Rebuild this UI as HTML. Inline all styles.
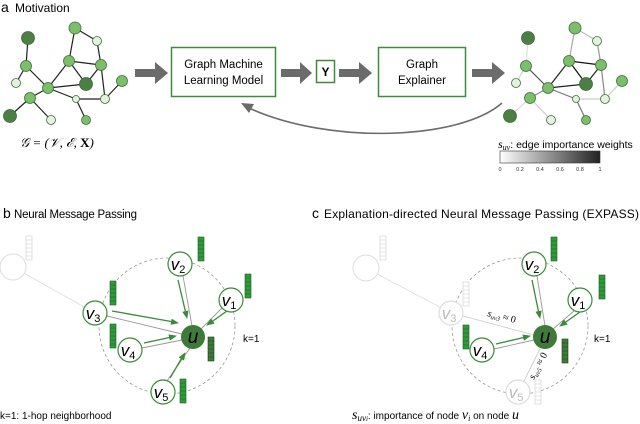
<!DOCTYPE html>
<html><head><meta charset="utf-8"><style>
html,body{margin:0;padding:0;background:#fff;}
svg{display:block;}
text{font-family:"Liberation Sans",sans-serif;}
.m{font-family:"Liberation Serif",serif;font-style:italic;}
</style></head><body>
<svg width="640" height="424" viewBox="0 0 640 424" xmlns="http://www.w3.org/2000/svg">
<defs>
<linearGradient id="cb" x1="0" x2="1"><stop offset="0" stop-color="#fff"/><stop offset="1" stop-color="#222"/></linearGradient>
<g id="vec"><rect x="0" y="0" width="6" height="24" fill="#2e9a3a" stroke="#1d5e22" stroke-width="0.6"/><path d="M0,4H6M0,8H6M0,12H6M0,16H6M0,20H6" stroke="#1d5e22" stroke-width="0.5"/></g>
<g id="vecd"><rect x="0" y="0" width="6" height="24" fill="#3f7a3a" stroke="#1d3e1a" stroke-width="0.6"/><path d="M0,4H6M0,8H6M0,12H6M0,16H6M0,20H6" stroke="#1d3e1a" stroke-width="0.5"/></g>
<g id="vecf"><rect x="0" y="0" width="6" height="24" fill="#fff" stroke="#ccc" stroke-width="0.6"/><path d="M0,4H6M0,8H6M0,12H6M0,16H6M0,20H6" stroke="#ccc" stroke-width="0.5"/></g>
<path id="ah" d="M1,0L-7,-3.2L-7,3.2z" fill="#3a8a3a"/>
</defs>

<text x="1" y="12" font-size="14">a</text><text x="15" y="12" font-size="12">Motivation</text>

<!-- left graph -->
<g stroke="#222" stroke-width="1.2">
<path d="M28,38L26,66M26,66L16,83M26,66L48,88M75,28L97,41M75,28L69,61M97,41L101,65M69,61L101,65M69,61L48,88M69,61L86,84M101,65L86,84M101,65L105,99M48,88L86,84M48,88L76,99M76,99L105,99M76,99L86,120M105,99L122,81M48,88L30,98M30,98L10,116M30,98L51,120"/>
</g>
<g stroke="#3c6e3c" stroke-width="0.8">
<circle cx="28" cy="38" r="6.5" fill="#4c7f44"/><circle cx="75" cy="28" r="6" fill="#7bbf6a"/><circle cx="97" cy="41" r="4.5" fill="#e6f0e0"/>
<circle cx="26" cy="66" r="5.5" fill="#7bbf6a"/><circle cx="69" cy="61" r="5.5" fill="#7bbf6a"/><circle cx="101" cy="65" r="5.5" fill="#7bbf6a"/>
<circle cx="86" cy="84" r="6.5" fill="#4c7f44"/><circle cx="16" cy="83" r="4.5" fill="#e6f0e0"/><circle cx="48" cy="88" r="5.5" fill="#7bbf6a"/>
<circle cx="122" cy="81" r="5.5" fill="#7bbf6a"/><circle cx="30" cy="98" r="5.5" fill="#7bbf6a"/><circle cx="76" cy="99" r="3.5" fill="#e6f0e0"/>
<circle cx="105" cy="99" r="4.5" fill="#e6f0e0"/><circle cx="10" cy="116" r="6.5" fill="#4c7f44"/><circle cx="51" cy="120" r="4.5" fill="#e6f0e0"/><circle cx="86" cy="120" r="4.5" fill="#7bbf6a"/>
</g>
<text x="20" y="147" font-size="13" class="m">𝒢 = (𝒱, ℰ, <tspan font-weight="bold" font-style="normal">X</tspan>)</text>

<!-- right graph -->
<g transform="translate(500,0)">
<g stroke-width="1.2">
<path d="M28,38L26,66" stroke="#ddd"/><path d="M26,66L16,83" stroke="#ccc"/><path d="M26,66L48,88" stroke="#555"/>
<path d="M75,28L97,41" stroke="#bbb"/><path d="M75,28L69,61" stroke="#aaa"/><path d="M97,41L101,65" stroke="#999"/>
<path d="M69,61L101,65" stroke="#111"/><path d="M69,61L48,88" stroke="#222"/><path d="M69,61L86,84" stroke="#111"/>
<path d="M101,65L86,84" stroke="#222"/><path d="M101,65L105,99" stroke="#888"/><path d="M48,88L86,84" stroke="#222"/>
<path d="M48,88L76,99" stroke="#777"/><path d="M76,99L105,99" stroke="#ccc"/><path d="M76,99L86,120" stroke="#777"/>
<path d="M105,99L122,81" stroke="#ccc"/><path d="M48,88L30,98" stroke="#888"/><path d="M30,98L10,116" stroke="#ddd"/><path d="M30,98L51,120" stroke="#ccc"/>
</g>
<g stroke="#3c6e3c" stroke-width="0.8">
<circle cx="28" cy="38" r="6.5" fill="#4c7f44"/><circle cx="75" cy="28" r="6" fill="#7bbf6a"/><circle cx="97" cy="41" r="4.5" fill="#e6f0e0"/>
<circle cx="26" cy="66" r="5.5" fill="#7bbf6a"/><circle cx="69" cy="61" r="5.5" fill="#7bbf6a"/><circle cx="101" cy="65" r="5.5" fill="#7bbf6a"/>
<circle cx="86" cy="84" r="6.5" fill="#4c7f44"/><circle cx="16" cy="83" r="4.5" fill="#e6f0e0"/><circle cx="48" cy="88" r="5.5" fill="#7bbf6a"/>
<circle cx="122" cy="81" r="5.5" fill="#7bbf6a"/><circle cx="30" cy="98" r="5.5" fill="#7bbf6a"/><circle cx="76" cy="99" r="3.5" fill="#e6f0e0"/>
<circle cx="105" cy="99" r="4.5" fill="#e6f0e0"/><circle cx="10" cy="116" r="6.5" fill="#4c7f44"/><circle cx="51" cy="120" r="4.5" fill="#e6f0e0"/><circle cx="86" cy="120" r="4.5" fill="#7bbf6a"/>
</g>
</g>

<!-- boxes -->
<rect x="171.5" y="47.5" width="104" height="49" fill="#fff" stroke="#3f8a3f" stroke-width="1.5"/>
<text x="223.5" y="68" font-size="11.5" text-anchor="middle">Graph Machine</text>
<text x="223.5" y="84" font-size="11.5" text-anchor="middle">Learning Model</text>
<rect x="316.5" y="60.5" width="18" height="22" fill="#fff" stroke="#3f8a3f" stroke-width="1.5"/>
<text x="325.5" y="76" font-size="12" font-weight="bold" text-anchor="middle" font-family="Liberation Serif,serif">Y</text>
<rect x="378.5" y="47.5" width="87" height="49" fill="#fff" stroke="#3f8a3f" stroke-width="1.5"/>
<text x="422" y="68" font-size="11.5" text-anchor="middle">Graph</text>
<text x="422" y="84" font-size="11.5" text-anchor="middle">Explainer</text>

<!-- block arrows -->
<g fill="#6b6b6b">
<path d="M135,69h20v-7l13,11l-13,11v-7h-20z"/>
<path d="M281,69h19v-7l12,11l-12,11v-7h-19z"/>
<path d="M339,69h20v-7l13,11l-13,11v-7h-20z"/>
<path d="M472,69h20v-7l13,11l-13,11v-7h-20z"/>
</g>
<path d="M502,103C460,140 330,145 249,108" fill="none" stroke="#6b6b6b" stroke-width="1.6"/>
<path d="M241,103l13,1l-5,9z" fill="#6b6b6b"/>

<!-- colorbar -->
<text x="498" y="148" font-size="10.5"><tspan class="m" font-size="12">s</tspan><tspan class="m" font-size="8" dy="2">uv</tspan><tspan dy="-2">: edge importance weights</tspan></text>
<rect x="500" y="151" width="100" height="12" fill="url(#cb)" stroke="#333" stroke-width="0.6"/>
<g font-size="5.5" fill="#333" text-anchor="middle">
<text x="500" y="171">0</text><text x="520" y="171">0.2</text><text x="540" y="171">0.4</text><text x="560" y="171">0.6</text><text x="580" y="171">0.8</text><text x="600" y="171">1</text>
</g>

<!-- titles -->
<text x="3" y="218" font-size="14">b</text><text x="14" y="218" font-size="11.5" textLength="123">Neural Message Passing</text>
<text x="312" y="218" font-size="14">c</text><text x="324" y="218" font-size="12" textLength="315">Explanation-directed Neural Message Passing (EXPASS)</text>

<!-- panel b -->
<circle cx="167" cy="326" r="68" fill="none" stroke="#999" stroke-width="0.8" stroke-dasharray="3,2.5"/>
<line x1="13" y1="267" x2="95" y2="313" stroke="#ddd" stroke-width="0.8"/>
<circle cx="13" cy="267" r="13" fill="#fff" stroke="#ddd"/>
<use href="#vecf" x="26" y="236"/>
<g stroke="#999" stroke-width="0.9" fill="none">
<path d="M183,276L192,326M224,306L200,330M107,316L182,334M142,348L182,340M167,381L190,348"/>
</g>
<g stroke="#3a8a3a" stroke-width="1.3" fill="none">
<path d="M178,280L186,314M227,311L210,323M112,311L174,322M144,343L172,337M170,378L183,356"/>
</g>
<use href="#ah" transform="translate(187,318) rotate(76.7)"/>
<use href="#ah" transform="translate(207,325) rotate(145)"/>
<use href="#ah" transform="translate(178,323) rotate(10.3)"/>
<use href="#ah" transform="translate(176,336) rotate(-12.3)"/>
<use href="#ah" transform="translate(185,353) rotate(-59)"/>
<g fill="#fff" stroke="#3a8a3a" stroke-width="1.2">
<circle cx="180" cy="264" r="12"/><circle cx="231" cy="300" r="12"/><circle cx="95" cy="313" r="12"/><circle cx="130" cy="350" r="12"/><circle cx="163" cy="392" r="12"/>
</g>
<circle cx="193" cy="337" r="12" fill="#3f7a3a"/>
<g class="m" font-size="17" text-anchor="middle">
<text x="178" y="270">v<tspan font-size="11" dy="3" font-style="normal">2</tspan></text>
<text x="229" y="306">v<tspan font-size="11" dy="3" font-style="normal">1</tspan></text>
<text x="93" y="319">v<tspan font-size="11" dy="3" font-style="normal">3</tspan></text>
<text x="128" y="356">v<tspan font-size="11" dy="3" font-style="normal">4</tspan></text>
<text x="161" y="398">v<tspan font-size="11" dy="3" font-style="normal">5</tspan></text>
<text x="193" y="343" font-size="19">u</text>
</g>
<use href="#vec" x="198" y="237"/><use href="#vec" x="245" y="274"/><use href="#vec" x="110" y="281"/><use href="#vec" x="110" y="324"/><use href="#vecd" x="208" y="337"/><use href="#vec" x="180" y="379"/>
<text x="243" y="342" font-size="10">k=1</text>
<text x="0" y="419" font-size="10">k=1: 1-hop neighborhood</text>

<!-- panel c -->
<circle cx="520" cy="326" r="68" fill="none" stroke="#999" stroke-width="0.8" stroke-dasharray="3,2.5"/>
<line x1="366" y1="268" x2="451" y2="313" stroke="#ddd" stroke-width="0.8"/>
<circle cx="366" cy="268" r="13" fill="#fff" stroke="#ddd"/>
<use href="#vecf" x="380" y="236"/>
<g stroke="#ccc" stroke-width="0.9"><path d="M463,316L534,335M524,381L540,349"/></g>
<g stroke="#999" stroke-width="0.9" fill="none">
<path d="M537,276L545,326M575,310L552,330M494,349L534,340"/>
</g>
<g stroke="#3a8a3a" stroke-width="1.3" fill="none">
<path d="M532,280L539,314M580,312L563,324M496,344L526,337"/>
</g>
<use href="#ah" transform="translate(540,318) rotate(78.1)"/>
<use href="#ah" transform="translate(560,326) rotate(145)"/>
<use href="#ah" transform="translate(530,336) rotate(-13.2)"/>
<g fill="#fff" stroke-width="1.2">
<circle cx="534" cy="264" r="12" stroke="#3a8a3a"/><circle cx="580" cy="300" r="12" stroke="#3a8a3a"/><circle cx="451" cy="313" r="12" stroke="#ddd"/><circle cx="482" cy="350" r="12" stroke="#3a8a3a"/><circle cx="518" cy="392" r="12" stroke="#ddd"/>
</g>
<circle cx="545" cy="337" r="12" fill="#3f7a3a"/>
<g class="m" font-size="17" text-anchor="middle">
<text x="532" y="270">v<tspan font-size="11" dy="3" font-style="normal">2</tspan></text>
<text x="578" y="306">v<tspan font-size="11" dy="3" font-style="normal">1</tspan></text>
<text x="449" y="319" fill="#bbb">v<tspan font-size="11" dy="3" font-style="normal">3</tspan></text>
<text x="480" y="356">v<tspan font-size="11" dy="3" font-style="normal">4</tspan></text>
<text x="516" y="398" fill="#bbb">v<tspan font-size="11" dy="3" font-style="normal">5</tspan></text>
<text x="545" y="343" font-size="19">u</text>
</g>
<text x="487" y="316" font-size="10" class="m" transform="rotate(14 487 316)">s<tspan font-size="6.5" dy="2">uv3</tspan><tspan dy="-2" font-style="normal"> ≈ 0</tspan></text>
<text x="534" y="380" font-size="10" class="m" transform="rotate(-62 534 380)">s<tspan font-size="6.5" dy="2">uv5</tspan><tspan dy="-2" font-style="normal"> ≈ 0</tspan></text>
<use href="#vec" x="551" y="237"/><use href="#vec" x="599" y="275"/><use href="#vecf" x="463" y="282"/><use href="#vec" x="463" y="325"/><use href="#vecd" x="562" y="339"/><use href="#vecf" x="535" y="380"/>
<text x="594" y="342" font-size="10">k=1</text>
<text x="352" y="419" font-size="10"><tspan class="m" font-size="14">s</tspan><tspan class="m" font-size="9" dy="2">uv<tspan font-size="7">i</tspan></tspan><tspan dy="-2">: importance of node </tspan><tspan class="m" font-size="14">v</tspan><tspan class="m" font-size="8" dy="2">i</tspan><tspan dy="-2"> on node </tspan><tspan class="m" font-size="14">u</tspan></text>
</svg>
</body></html>
